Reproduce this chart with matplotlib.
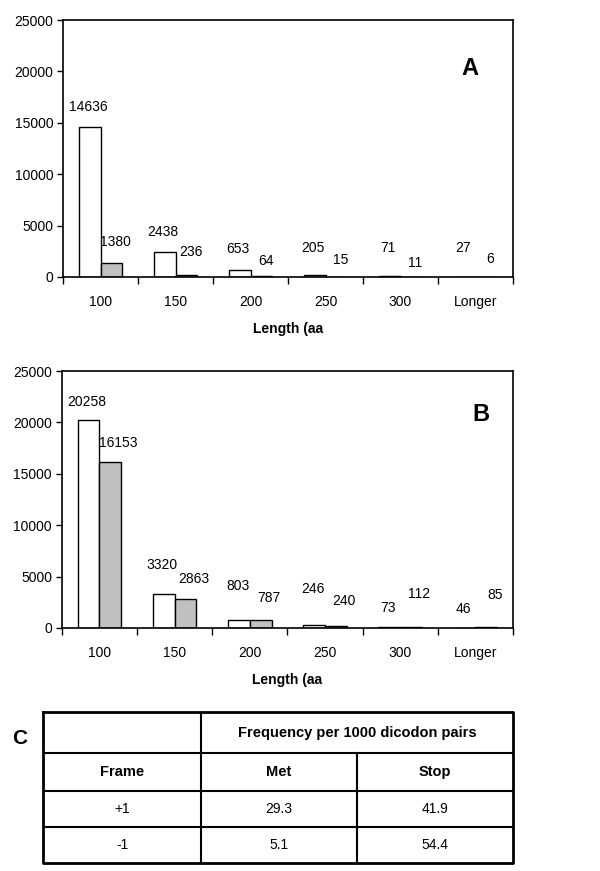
import matplotlib.pyplot as plt
import numpy as np

plt.rcParams['font.family'] = ['Liberation Sans', 'DejaVu Sans']

# data
categories = ['100', '150', '200', '250', '300', 'Longer']
a_white = [14636, 2438, 653, 205, 71, 27]
a_gray = [1380, 236, 64, 15, 11, 6]
b_white = [20258, 3320, 803, 246, 73, 46]
b_gray = [16153, 2863, 787, 240, 112, 85]

table_head = ['Frame', 'Met', 'Stop']
table_frames = ['+1', '-1']
table_met = ['29.3', '5.1']
table_stop = ['41.9', '54.4']

# label offsets in points (layout only)
a_off_white = [14, 14, 15, 19, 20, 21]
a_off_gray = [15, 16, 11, 12, 10, 13]
b_off_white = [13, 21, 24, 26, 14, 13]
b_off_gray = [14, 14, 16, 18, 24, 23]

fig = plt.figure(figsize=(6, 8.71), dpi=100)


def bar_panel(rect, white, gray, off_w, off_g, gx, letter, lpos):
    ax = fig.add_axes(rect)
    x = np.arange(len(categories))
    w = 0.29
    ax.bar(x - w / 2, white, w, color='white', edgecolor='black', linewidth=1)
    ax.bar(x + w / 2, gray, w, color='#c0c0c0', edgecolor='black', linewidth=1)
    for i in range(len(x)):
        ax.annotate(str(white[i]), (x[i] - w / 2, white[i]), xytext=(-1, off_w[i]),
                    textcoords='offset points', ha='center', va='center', fontsize=10)
        ax.annotate(str(gray[i]), (x[i] + w / 2, gray[i]), xytext=(gx, off_g[i]),
                    textcoords='offset points', ha='center', va='center', fontsize=10)
    ax.set_xlim(-0.5, len(categories) - 0.5)
    ax.set_ylim(0, 25000)
    ax.set_yticks(np.arange(0, 25001, 5000))
    ax.set_xticks(x)
    ax.set_xticklabels(categories)
    ax.set_xticks(np.arange(-0.5, len(categories)), minor=True)
    ax.tick_params(axis='x', which='major', length=0, pad=13, labelsize=10)
    ax.tick_params(axis='x', which='minor', length=5, width=1, direction='out')
    ax.tick_params(axis='y', length=4, width=1, direction='out', pad=3, labelsize=10)
    for s in ax.spines.values():
        s.set_linewidth(1.2)
    ax.set_xlabel('Length (aa', fontsize=10, fontweight='bold', labelpad=9)
    ax.text(lpos[0], lpos[1], letter, transform=ax.transAxes, fontsize=17,
            fontweight='bold', ha='center', va='center')
    return ax


bar_panel([0.105, 0.682, 0.75, 0.295], a_white, a_gray, a_off_white, a_off_gray, 3, 'A', (0.905, 0.81))
bar_panel([0.103, 0.279, 0.752, 0.295], b_white, b_gray, b_off_white, b_off_gray, 6, 'B', (0.93, 0.83))

# table C
tx = fig.add_axes([0.0717, 0.0092, 0.7833, 0.1733])
tx.set_xlim(0, 470)
tx.set_ylim(151, 0)
tx.axis('off')
cols = [0, 158, 314, 470]
rows = [0, 41, 79, 115, 151]
lw_out, lw_in = 2, 1.5
tx.plot([0, 470, 470, 0, 0], [0, 0, 151, 151, 0], color='black', lw=lw_out, clip_on=False)
for r in rows[1:-1]:
    tx.plot([0, 470], [r, r], color='black', lw=lw_in)
tx.plot([cols[1], cols[1]], [0, 151], color='black', lw=lw_in)
tx.plot([cols[2], cols[2]], [rows[1], 151], color='black', lw=lw_in)

tx.text((cols[1] + cols[3]) / 2, rows[1] / 2, 'Frequency per 1000 dicodon pairs',
        ha='center', va='center', fontsize=10.5, fontweight='bold')
for j, h in enumerate(table_head):
    tx.text((cols[j] + cols[j + 1]) / 2, (rows[1] + rows[2]) / 2, h,
            ha='center', va='center', fontsize=10.5, fontweight='bold')
for i in range(len(table_frames)):
    yc = (rows[i + 2] + rows[i + 3]) / 2
    for j, v in enumerate([table_frames[i], table_met[i], table_stop[i]]):
        tx.text((cols[j] + cols[j + 1]) / 2, yc, v, ha='center', va='center', fontsize=10)

fig.text(0.033, 1 - 738 / 871, 'C', fontsize=15, fontweight='bold', ha='center', va='center')

fig.savefig('out.png', dpi=100)
